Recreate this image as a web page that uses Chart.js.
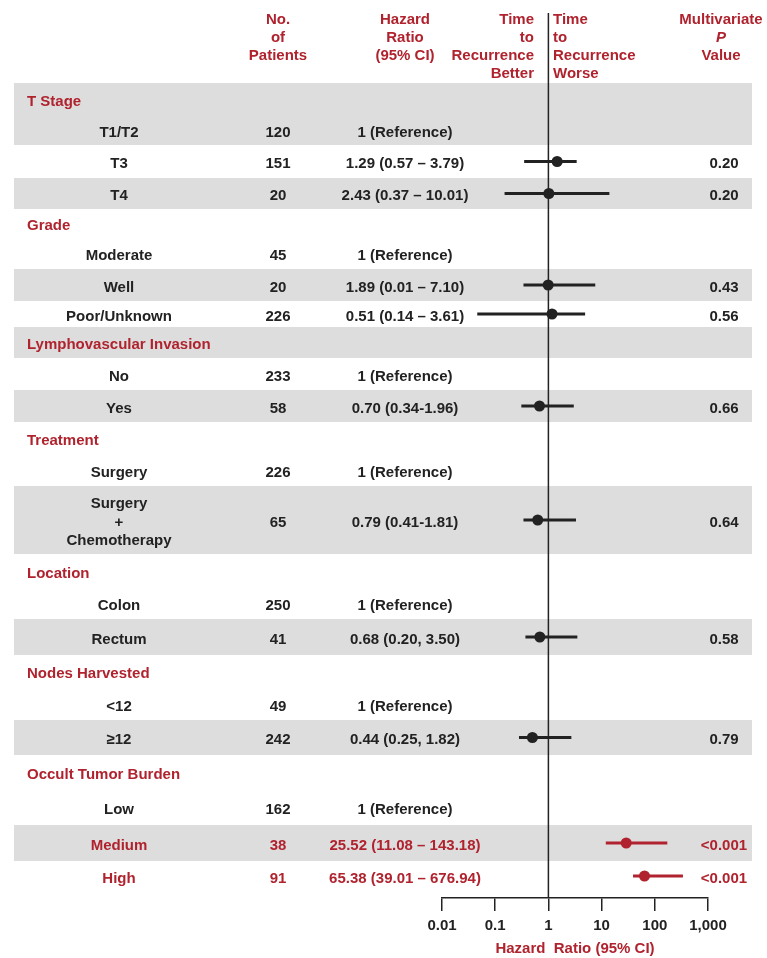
<!DOCTYPE html>
<html>
<head>
<meta charset="utf-8">
<title>Hazard ratio forest plot</title>
<script src="https://cdn.jsdelivr.net/npm/chart.js@4/dist/chart.umd.min.js"></script>
<style>
  html, body { margin: 0; padding: 0; background: #fff; }
  canvas { display: block; }
</style>
</head>
<body>
<canvas id="chart" width="767" height="958"></canvas>
<script>
// ---- data ----
const rowLabels = [
  'T Stage', 'T1/T2', 'T3', 'T4',
  'Grade', 'Moderate', 'Well', 'Poor/Unknown',
  'Lymphovascular Invasion', 'No', 'Yes',
  'Treatment', 'Surgery', 'Surgery\n+\nChemotherapy',
  'Location', 'Colon', 'Rectum',
  'Nodes Harvested', '<12', '≥12',
  'Occult Tumor Burden', 'Low', 'Medium', 'High'
];
const patients = [
  null, 120, 151, 20,
  null, 45, 20, 226,
  null, 233, 58,
  null, 226, 65,
  null, 250, 41,
  null, 49, 242,
  null, 162, 38, 91
];
const hrLabels = [
  null, '1 (Reference)', '1.29 (0.57 – 3.79)', '2.43 (0.37 – 10.01)',
  null, '1 (Reference)', '1.89 (0.01 – 7.10)', '0.51 (0.14 – 3.61)',
  null, '1 (Reference)', '0.70 (0.34-1.96)',
  null, '1 (Reference)', '0.79 (0.41-1.81)',
  null, '1 (Reference)', '0.68 (0.20, 3.50)',
  null, '1 (Reference)', '0.44 (0.25, 1.82)',
  null, '1 (Reference)', '25.52 (11.08 – 143.18)', '65.38 (39.01 – 676.94)'
];
const pValues = [
  null, null, '0.20', '0.20',
  null, null, '0.43', '0.56',
  null, null, '0.66',
  null, null, '0.64',
  null, null, '0.58',
  null, null, '0.79',
  null, null, '<0.001', '<0.001'
];
// where the markers sit on the drawn axis
const estimates = [
  null, null, 1.46, 1.02,
  null, null, 0.99, 1.17,
  null, null, 0.68,
  null, null, 0.63,
  null, null, 0.69,
  null, null, 0.50,
  null, null, 29, 64
];
const lowerCI = [
  null, null, 0.35, 0.15,
  null, null, 0.34, 0.046,
  null, null, 0.31,
  null, null, 0.34,
  null, null, 0.37,
  null, null, 0.28,
  null, null, 12, 39
];
const upperCI = [
  null, null, 3.4, 14,
  null, null, 7.6, 4.9,
  null, null, 3.0,
  null, null, 3.3,
  null, null, 3.5,
  null, null, 2.7,
  null, null, 172, 338
];
const highlightRows = ['Medium', 'High'];
const tickValues = [0.01, 0.1, 1, 10, 100, 1000];
const tickLabels = ['0.01', '0.1', '1', '10', '100', '1,000'];

// ---- layout / style ----
const rowHeights = [32, 30, 33, 31, 28, 32, 32, 26, 31, 32, 32, 33, 31, 68, 34, 31, 36, 33, 32, 35, 34, 36, 36, 30];
const shaded =     [1, 1, 0, 1, 0, 0, 1, 0, 1, 0, 1, 0, 0, 1, 0, 0, 1, 0, 0, 1, 0, 0, 1, 0];
const TOP_GAP = 70;
const BOTTOM_GAP = 7;
const TEXT_DY = 2.5;
const RED = '#b0232e';
const INK = '#222222';
const BAND = '#dddddd';
const FONT = '"Liberation Sans", Arial, Helvetica, sans-serif';

let acc = TOP_GAP;
const rowStart = [], rowCenter = [];
rowHeights.forEach(h => { rowStart.push(acc); rowCenter.push(acc + h / 2); acc += h; });
const yMax = acc + BOTTOM_GAP;

const isHeader = i => patients[i] == null;
const rowColor = i => highlightRows.includes(rowLabels[i]) ? RED : INK;

const datasets = [];
rowLabels.forEach((label, i) => {
  if (estimates[i] == null) return;
  const c = rowColor(i);
  datasets.push({
    data: [{ x: lowerCI[i], y: rowCenter[i] }, { x: upperCI[i], y: rowCenter[i] }],
    showLine: true, borderColor: c, borderWidth: 3, pointRadius: 0
  });
  datasets.push({
    data: [{ x: estimates[i], y: rowCenter[i] }],
    pointRadius: 5.5, backgroundColor: c, borderWidth: 0
  });
});

const tablePlugin = {
  id: 'forestTable',
  beforeDatasetsDraw(chart) {
    const { ctx, scales: { x, y }, chartArea } = chart;
    ctx.save();
    ctx.fillStyle = BAND;
    rowHeights.forEach((h, i) => {
      if (!shaded[i]) return;
      const top = y.getPixelForValue(rowStart[i]);
      const bottom = y.getPixelForValue(rowStart[i] + h);
      ctx.fillRect(14, top, 752 - 14, bottom - top);
    });
    // line of no effect
    const x1 = x.getPixelForValue(1);
    ctx.strokeStyle = INK;
    ctx.lineWidth = 1.5;
    ctx.beginPath();
    ctx.moveTo(x1, chartArea.top);
    ctx.lineTo(x1, chartArea.bottom);
    ctx.stroke();
    ctx.restore();
  },
  afterDraw(chart) {
    const { ctx, scales: { y } } = chart;
    ctx.save();
    ctx.font = 'bold 15px ' + FONT;
    ctx.textBaseline = 'middle';

    // column headers
    const hy = [19.5, 37.5, 55.5, 73.5];
    ctx.fillStyle = RED;
    ctx.textAlign = 'center';
    ['No.', 'of', 'Patients'].forEach((t, k) => ctx.fillText(t, 278, hy[k]));
    ['Hazard', 'Ratio', '(95% CI)'].forEach((t, k) => ctx.fillText(t, 405, hy[k]));
    ctx.fillText('Multivariate', 721, hy[0]);
    ctx.fillText('Value', 721, hy[2]);
    ctx.font = 'italic bold 15px ' + FONT;
    ctx.fillText('P', 721, hy[1]);
    ctx.font = 'bold 15px ' + FONT;
    ctx.textAlign = 'right';
    ['Time', 'to', 'Recurrence', 'Better'].forEach((t, k) => ctx.fillText(t, 534, hy[k]));
    ctx.textAlign = 'left';
    ['Time', 'to', 'Recurrence', 'Worse'].forEach((t, k) => ctx.fillText(t, 553, hy[k]));

    // rows
    rowLabels.forEach((label, i) => {
      const cy = y.getPixelForValue(rowCenter[i]) + TEXT_DY;
      if (isHeader(i)) {
        ctx.fillStyle = RED;
        ctx.textAlign = 'left';
        ctx.fillText(label, 27, cy);
        return;
      }
      ctx.fillStyle = rowColor(i);
      ctx.textAlign = 'center';
      const lines = label.split('\n');
      lines.forEach((t, k) => ctx.fillText(t, 119, cy + (k - (lines.length - 1) / 2) * 18.3));
      ctx.fillText(String(patients[i]), 278, cy);
      ctx.fillText(hrLabels[i], 405, cy);
      if (pValues[i]) ctx.fillText(pValues[i], 724, cy);
    });
    ctx.restore();
  }
};

new Chart(document.getElementById('chart'), {
  type: 'scatter',
  data: { datasets: datasets },
  plugins: [tablePlugin],
  options: {
    responsive: false,
    animation: false,
    layout: { padding: { left: 442, right: 59, top: 13, bottom: 0 } },
    plugins: { legend: { display: false }, tooltip: { enabled: false } },
    scales: {
      x: {
        type: 'logarithmic',
        min: 0.01,
        max: 1000,
        afterBuildTicks: scale => { scale.ticks = tickValues.map(v => ({ value: v })); },
        ticks: {
          callback: (v, i) => tickLabels[i],
          color: INK,
          font: { family: FONT, size: 15, weight: 'bold', lineHeight: 1 },
          padding: 7,
          autoSkip: false,
          maxRotation: 0
        },
        grid: { drawOnChartArea: false, tickLength: 13, color: INK, lineWidth: 1.5 },
        border: { color: INK, width: 1.5 },
        title: {
          display: true,
          text: 'Hazard  Ratio (95% CI)',
          color: RED,
          font: { family: FONT, size: 15, weight: 'bold', lineHeight: 1 },
          padding: { top: 1.5, bottom: 1.5 }
        }
      },
      y: { type: 'linear', min: 0, max: yMax, reverse: true, display: false }
    }
  }
});
</script>
</body>
</html>
